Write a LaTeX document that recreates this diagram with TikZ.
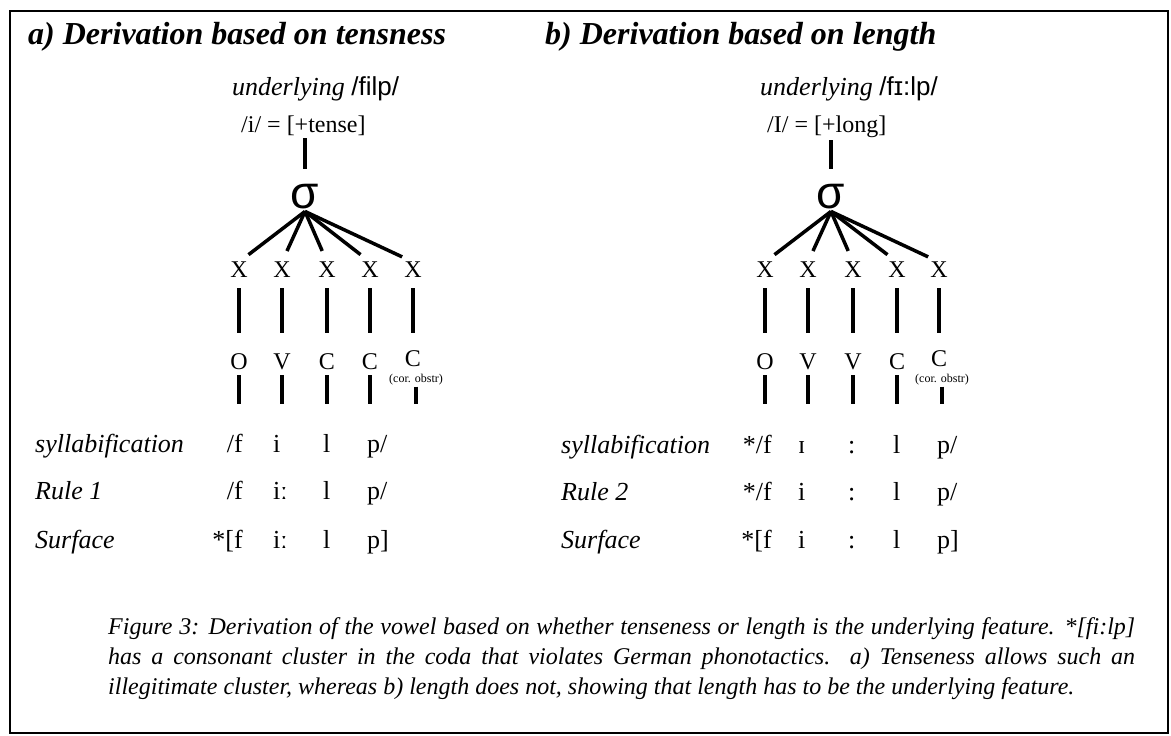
\documentclass[tikz,border=0pt]{standalone}
\usepackage{fontspec}
\setmainfont{Liberation Serif}
\newfontfamily\ipasans{Liberation Sans}
\usetikzlibrary{positioning}

\begin{document}
\begin{tikzpicture}[
    x=1pt, y=-1pt,
    on grid,
    inner sep=0pt,
    title/.style={anchor=base west, font=\fontsize{32}{36}\selectfont\bfseries\itshape},
    uline/.style={anchor=base west, font=\fontsize{26}{30}\selectfont},
    feat/.style={anchor=base west, font=\fontsize{24}{28}\selectfont},
    sigma/.style={anchor=base, outer sep=3pt, font=\fontsize{46}{50}\selectfont\ipasans},
    slot/.style={font=\fontsize{24}{28}\selectfont},
    seg/.style={font=\fontsize{24}{28}\selectfont},
    obs/.style={font=\fontsize{12}{14}\selectfont},
    rowlab/.style={anchor=base west, font=\fontsize{26}{30}\selectfont\itshape},
    phon/.style={font=\fontsize{26}{30}\selectfont},
    stem/.style={line width=3.5pt},
    fan/.style={stem, shorten >=12pt},
    assoc/.style={stem, shorten <=10pt, shorten >=21pt},
    tail/.style={stem, shorten <=5pt}
]
   \useasboundingbox (0,0) rectangle (1171,736);
   \draw[line width=2pt] (10,11) rectangle (1168,733);
   \coordinate (tailEnd) at (0,404);

   % a) tensness
   \node[title] (titA) at (28,45) {a) Derivation based on tensness};
   \node[uline] (undA) at (232,95) {{\itshape underlying} {\ipasans /filp/}};
   \node[feat] (featA) at (241,132) {/i/ = [+tense]};
   \node[sigma] (sigA) at (305,208) {σ};

   % skeleton a
   \node[slot] (xa1) at (239,270) {X};
   \node[slot] (xa2) [right=43pt of xa1] {X};
   \node[slot] (xa3) [right=45pt of xa2] {X};
   \node[slot] (xa4) [right=43pt of xa3] {X};
   \node[slot] (xa5) [right=43pt of xa4] {X};

   \node[seg] (sa1) [below=92pt of xa1] {O};
   \node[seg] (sa2) [below=92pt of xa2] {V};
   \node[seg] (sa3) [below=92pt of xa3] {C};
   \node[seg] (sa4) [below=92pt of xa4] {C};
   \node[seg] (sa5) [below=89pt of xa5] {C};
   \node[obs] (obsA) [below=21pt of sa5, xshift=3pt] {(cor. obstr)};

   \draw[stem, shorten <=3pt, shorten >=12pt] (sigA.north |- featA.south) -- (sigA.north);
   \path[fan]
   (sigA.south) edge (xa1.north)
                edge (xa2.north)
                edge (xa3.north)
                edge (xa4.north)
                edge (xa5.north);
   \path[assoc]
   (xa1) edge (sa1)
   (xa2) edge (sa2)
   (xa3) edge (sa3)
   (xa4) edge (sa4)
   (xa5) edge[shorten >=18pt] (sa5);
   \draw[tail] (sa1.south) -- (sa1.south |- tailEnd);
   \draw[tail] (sa2.south) -- (sa2.south |- tailEnd);
   \draw[tail] (sa3.south) -- (sa3.south |- tailEnd);
   \draw[tail] (sa4.south) -- (sa4.south |- tailEnd);
   \draw[stem, shorten <=1pt] (obsA.south) -- (obsA.south |- tailEnd);

   % rows a
   \node[rowlab] (sylA) at (35,452) {syllabification};
   \node[rowlab] (ruleA) at (35,499) {Rule 1};
   \node[rowlab] (surfA) at (35,548) {Surface};

   \node[phon, anchor=base east] (pa11) at (243,452) {/f};
   \node[phon, anchor=base west] (pa12) at (273,452) {i};
   \node[phon, anchor=base west] (pa13) at (323,452) {l};
   \node[phon, anchor=base west] (pa14) at (367,452) {p/};
   \node[phon, anchor=base east] (pa21) at (243,499) {/f};
   \node[phon, anchor=base west] (pa22) at (273,499) {iː};
   \node[phon, anchor=base west] (pa23) at (323,499) {l};
   \node[phon, anchor=base west] (pa24) at (367,499) {p/};
   \node[phon, anchor=base east] (pa31) at (243,548) {*[f};
   \node[phon, anchor=base west] (pa32) at (273,548) {iː};
   \node[phon, anchor=base west] (pa33) at (323,548) {l};
   \node[phon, anchor=base west] (pa34) at (367,548) {p]};

   % b) length
   \node[title] (titB) at (545,45) {b) Derivation based on length};
   \node[uline] (undB) at (760,95) {{\itshape underlying} {\ipasans /fɪ:lp/}};
   \node[feat] (featB) at (767,132) {/I/ = [+long]};
   \node[sigma] (sigB) at (831,208) {σ};

   % skeleton b
   \node[slot] (xb1) at (765,270) {X};
   \node[slot] (xb2) [right=43pt of xb1] {X};
   \node[slot] (xb3) [right=45pt of xb2] {X};
   \node[slot] (xb4) [right=44pt of xb3] {X};
   \node[slot] (xb5) [right=42pt of xb4] {X};

   \node[seg] (sb1) [below=92pt of xb1] {O};
   \node[seg] (sb2) [below=92pt of xb2] {V};
   \node[seg] (sb3) [below=92pt of xb3] {V};
   \node[seg] (sb4) [below=92pt of xb4] {C};
   \node[seg] (sb5) [below=89pt of xb5] {C};
   \node[obs] (obsB) [below=21pt of sb5, xshift=3pt] {(cor. obstr)};

   \draw[stem, shorten <=3pt, shorten >=12pt] (sigB.north |- featB.south) -- (sigB.north);
   \path[fan]
   (sigB.south) edge (xb1.north)
                edge (xb2.north)
                edge (xb3.north)
                edge (xb4.north)
                edge (xb5.north);
   \path[assoc]
   (xb1) edge (sb1)
   (xb2) edge (sb2)
   (xb3) edge (sb3)
   (xb4) edge (sb4)
   (xb5) edge[shorten >=18pt] (sb5);
   \draw[tail] (sb1.south) -- (sb1.south |- tailEnd);
   \draw[tail] (sb2.south) -- (sb2.south |- tailEnd);
   \draw[tail] (sb3.south) -- (sb3.south |- tailEnd);
   \draw[tail] (sb4.south) -- (sb4.south |- tailEnd);
   \draw[stem, shorten <=1pt] (obsB.south) -- (obsB.south |- tailEnd);

   % rows b
   \node[rowlab] (sylB) at (561,453) {syllabification};
   \node[rowlab] (ruleB) at (561,500) {Rule 2};
   \node[rowlab] (surfB) at (561,548) {Surface};

   \node[phon, anchor=base east] (pb11) at (772,453) {*/f};
   \node[phon, anchor=base west] (pb12) at (798,453) {ɪ};
   \node[phon, anchor=base west] (pb13) at (848,453) {:};
   \node[phon, anchor=base west] (pb14) at (893,453) {l};
   \node[phon, anchor=base west] (pb15) at (937,453) {p/};
   \node[phon, anchor=base east] (pb21) at (772,500) {*/f};
   \node[phon, anchor=base west] (pb22) at (798,500) {i};
   \node[phon, anchor=base west] (pb23) at (848,500) {:};
   \node[phon, anchor=base west] (pb24) at (893,500) {l};
   \node[phon, anchor=base west] (pb25) at (937,500) {p/};
   \node[phon, anchor=base east] (pb31) at (772,548) {*[f};
   \node[phon, anchor=base west] (pb32) at (798,548) {i};
   \node[phon, anchor=base west] (pb33) at (848,548) {:};
   \node[phon, anchor=base west] (pb34) at (893,548) {l};
   \node[phon, anchor=base west] (pb35) at (937,548) {p]};

   % caption
   \node[anchor=north west, text width=1027pt, align=justify,
         font=\fontsize{24}{30}\selectfont\itshape] (capt) at (108,617)
   {\tolerance=9999 Figure 3: Derivation of the vowel based on whether tenseness or length is the underlying feature. *[fi:lp]\linebreak
    has a consonant cluster in the coda that violates German phonotactics. a) Tenseness allows such an\linebreak
    illegitimate cluster, whereas b) length does not, showing that length has to be the underlying feature.};

\end{tikzpicture}
\end{document}
